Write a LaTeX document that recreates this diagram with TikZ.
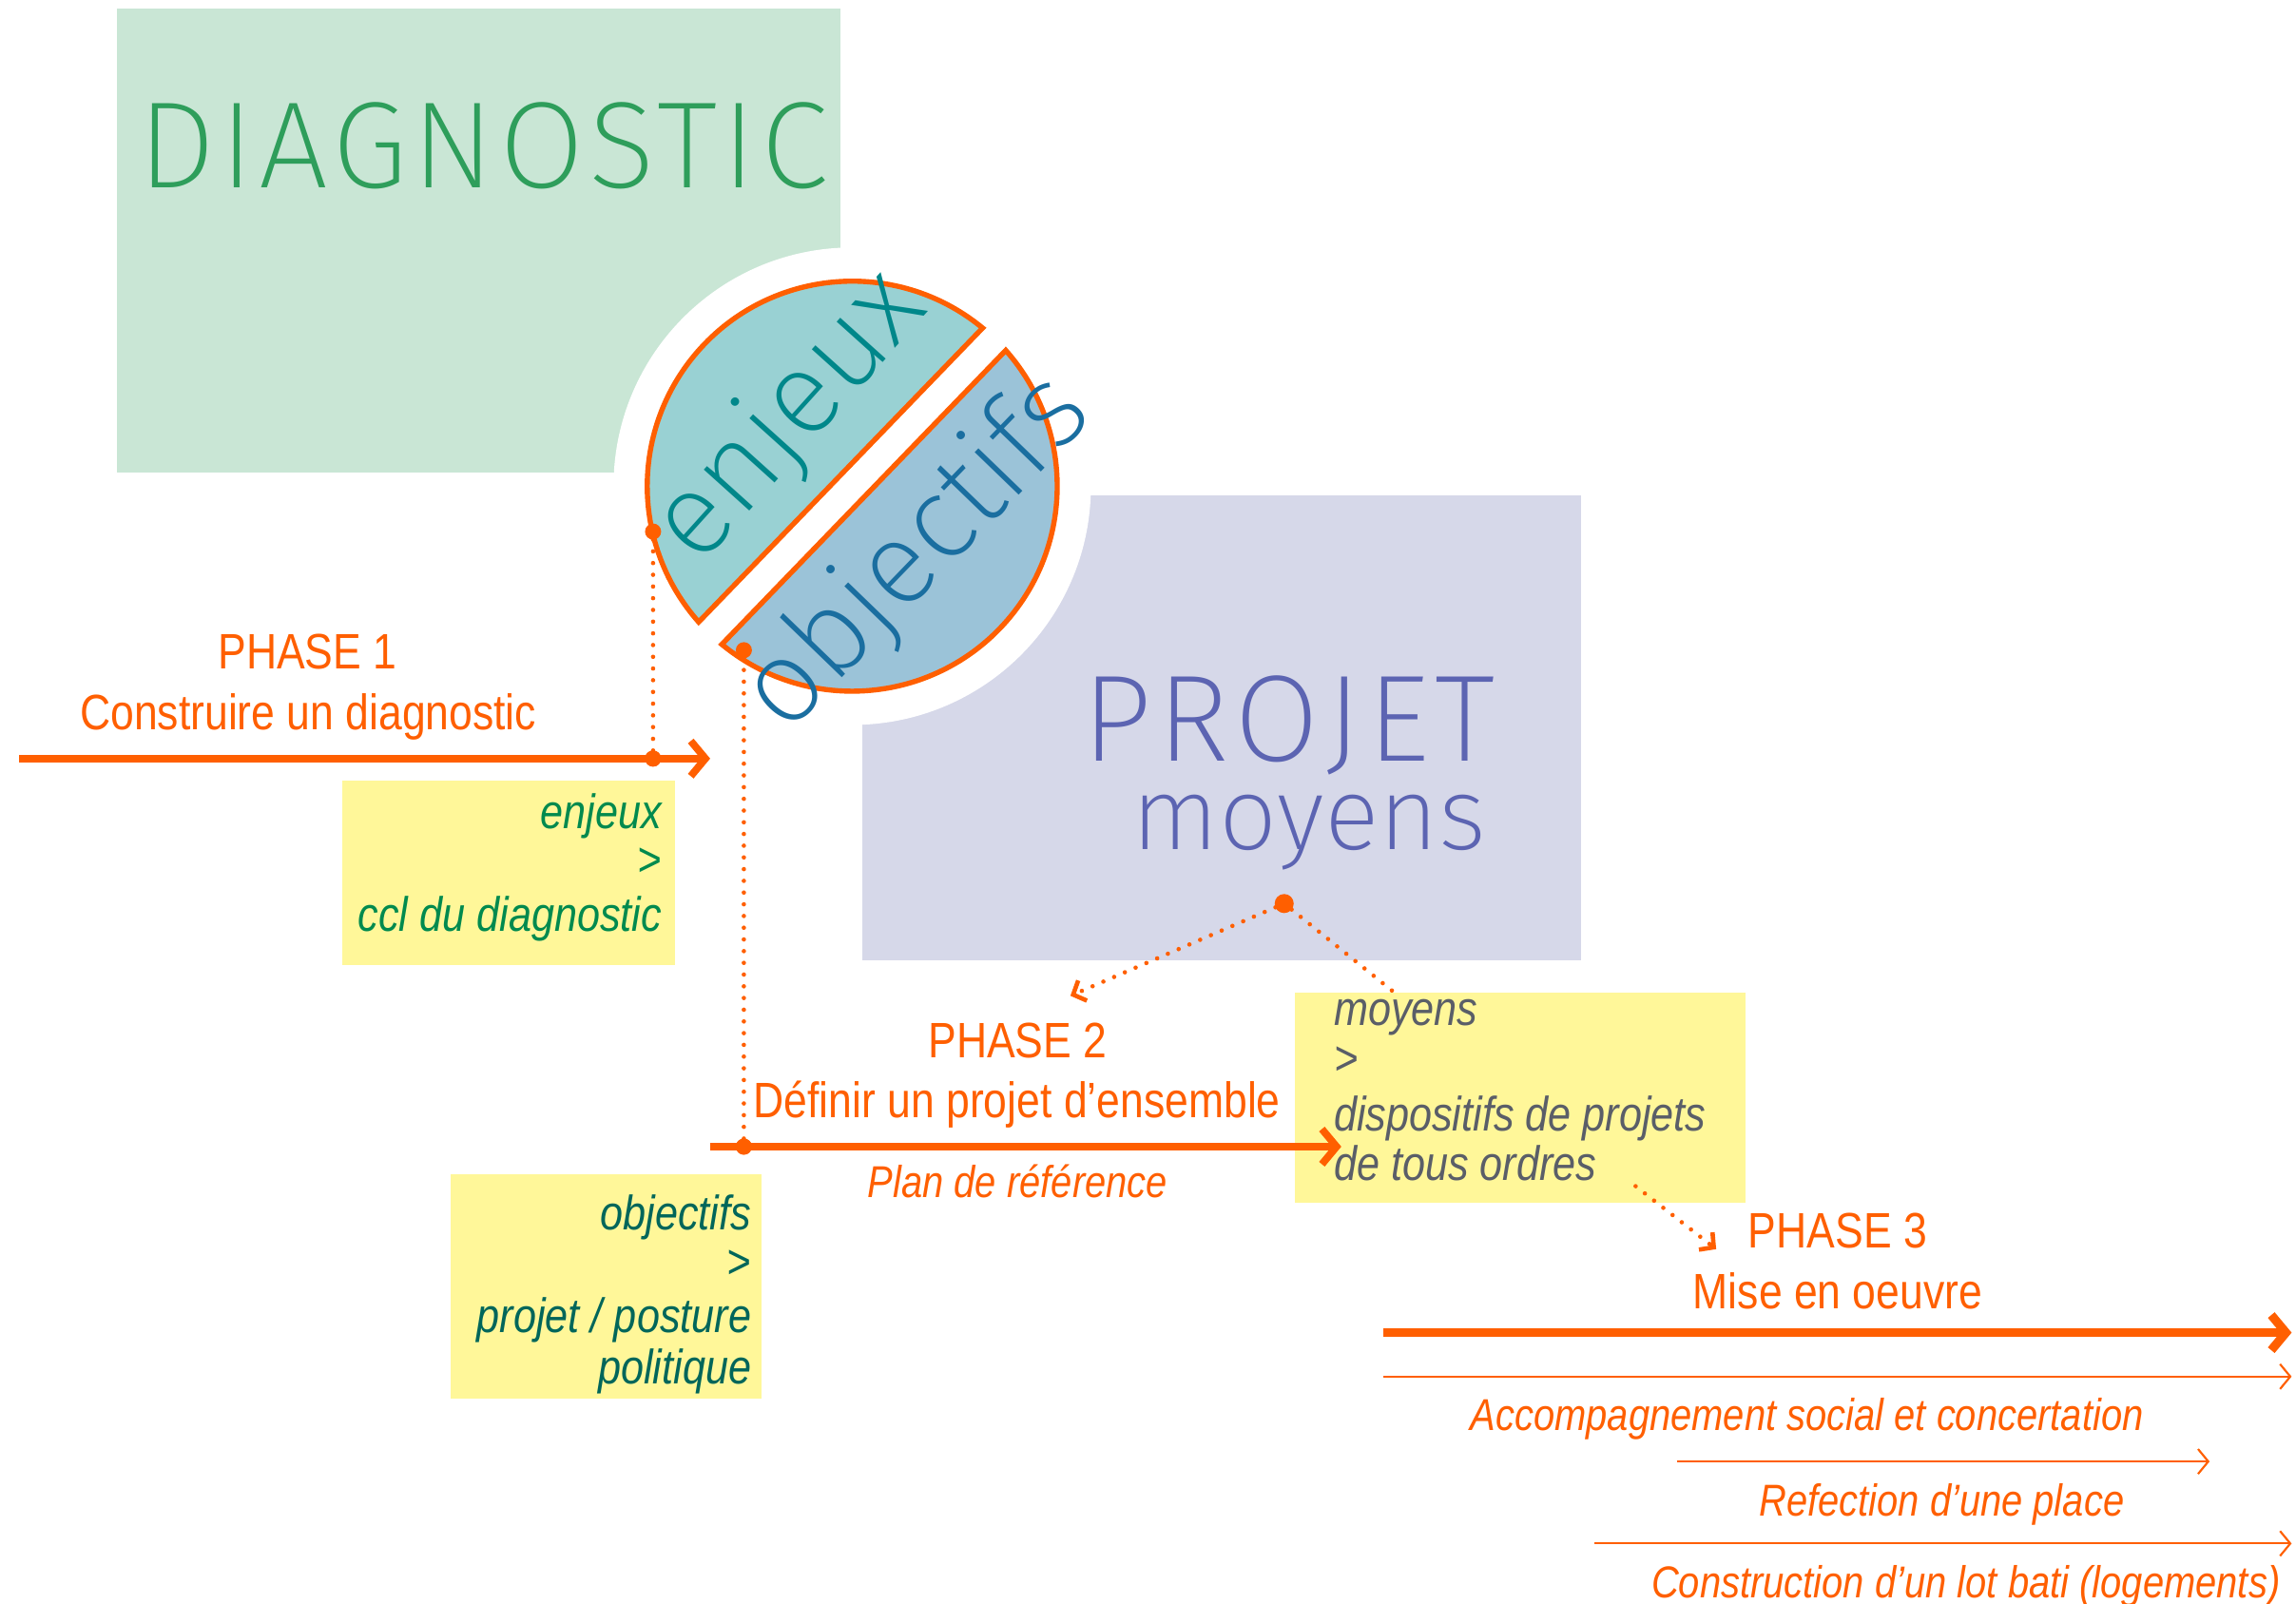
\documentclass[tikz,border=0pt]{standalone}
\usepackage{fontspec}
\usetikzlibrary{arrows.meta}
\newfontfamily\narrow{Liberation Sans}[FakeStretch=0.85]
\newfontfamily\thinf{Fira Sans ExtraLight}
\definecolor{orng}{HTML}{FF5F00}
\definecolor{diagfill}{HTML}{C9E6D5}
\definecolor{diagtext}{HTML}{2E9E5B}
\definecolor{enjfill}{HTML}{99D1D3}
\definecolor{enjtext}{HTML}{00878A}
\definecolor{objfill}{HTML}{9BC3D8}
\definecolor{objtext}{HTML}{1A6EA0}
\definecolor{projfill}{HTML}{D6D8E9}
\definecolor{projtext}{HTML}{5C64B2}
\definecolor{yel}{HTML}{FFF799}
\definecolor{gA}{HTML}{008A4E}
\definecolor{gB}{HTML}{00665A}
\definecolor{gC}{HTML}{5A5E68}
\begin{document}
\begin{tikzpicture}[x=1pt,y=-1pt,
  every node/.style={inner sep=0pt, outer sep=0pt},
  ph/.style={font=\narrow\fontsize{34}{40}\selectfont, text=orng, anchor=base},
  lab/.style={font=\narrow\itshape\fontsize{30.5}{38}\selectfont, text=orng, anchor=base},
  boxtxtR/.style={font=\narrow\itshape\fontsize{33}{40}\selectfont, anchor=base east},
  boxtxtL/.style={font=\narrow\itshape\fontsize{33}{40}\selectfont, anchor=base west},
  bigarrow/.style={draw=orng, line width=5pt, -{Straight Barb[length=10pt,width=24pt]}},
  thinarrow/.style={draw=orng, line width=1.4pt, -{Straight Barb[length=7pt,width=17pt]}},
  dotline/.style={draw=orng, line width=3pt, line cap=round, dash pattern=on 0pt off 8pt},
  dottip/.style={-{Straight Barb[length=7pt,width=15pt,line width=3pt]}},
  odot/.style={circle, fill=orng, minimum size=11pt},
  seg/.style={draw=orng, line width=3.5pt, line join=miter}
]
\useasboundingbox (0,0) rectangle (1568,1095);
% background boxes
\fill[diagfill] (80,6) rectangle (574,323);
\fill[projfill] (589,338) rectangle (1080,656);
\fill[white] (582,332) circle[radius=163];
% split disc
\begin{scope}[shift={(582,332)}]
  \filldraw[seg, fill=enjfill] (-50.5:140) arc[start angle=-50.5, end angle=-221.5, radius=140] -- cycle;
  \filldraw[seg, fill=objfill] (-230.5:140) arc[start angle=-230.5, end angle=-401.5, radius=140] -- cycle;
\end{scope}
% big titles
\node[font=\thinf\addfontfeature{LetterSpace=4}\fontsize{84}{90}\selectfont, text=diagtext, anchor=base] (tdiag) at (330,128) {DIAGNOSTIC};
\node[font=\thinf\fontsize{80}{90}\selectfont, text=enjtext, rotate=48] (tenj) at (540,285) {enjeux};
\node[font=\thinf\fontsize{80}{90}\selectfont, text=objtext, rotate=46] (tobj) at (627,378) {objectifs};
\node[font=\thinf\addfontfeature{LetterSpace=5}\fontsize{84}{90}\selectfont, text=projtext, anchor=base] (tproj) at (880,520) {PROJET};
\node[font=\thinf\fontsize{70}{80}\selectfont, text=projtext, anchor=base] (tmoy) at (894,580) {moyens};
% yellow boxes
\fill[yel] (234,533) rectangle (461,659);
\fill[yel] (308,802) rectangle (520,955);
\fill[yel] (884,678) rectangle (1192,821);
\node[boxtxtR, text=gA] (b1a) at (452,566) {enjeux};
\node[boxtxtR, text=gA] (b1b) at (452,598) {>};
\node[boxtxtR, text=gA] (b1c) at (452,636) {ccl du diagnostic};
\node[boxtxtR, text=gB] (b2a) at (513,840) {objectifs};
\node[boxtxtR, text=gB] (b2b) at (513,873) {>};
\node[boxtxtR, text=gB] (b2c) at (513,910) {projet / posture};
\node[boxtxtR, text=gB] (b2d) at (513,945) {politique};
\node[boxtxtL, text=gC] (b3a) at (911,700) {moyens};
\node[boxtxtL, text=gC] (b3b) at (911,734) {>};
\node[boxtxtL, text=gC] (b3c) at (911,772) {dispositifs de projets};
\node[boxtxtL, text=gC] (b3d) at (911,806) {de tous ordres};
% phase labels
\node[ph] (ph1a) at (210,457) {PHASE 1};
\node[ph] (ph1b) at (210.5,498) {Construire un diagnostic};
\node[ph] (ph2a) at (695,722) {PHASE 2};
\node[ph] (ph2b) at (694.5,763) {Définir un projet d’ensemble};
\node[lab] (plan) at (695,818) {Plan de référence};
\node[ph] (ph3a) at (1255,852) {PHASE 3};
\node[ph] (ph3b) at (1255,894) {Mise en oeuvre};
\node[lab] (l1) at (1234,977) {Accompagnement social et concertation};
\node[lab] (l2) at (1326,1035) {Refection d’une place};
\node[lab] (l3) at (1342.5,1091) {Construction d’un lot bati (logements)};
% coordinates
\coordinate (a1s) at (13,518);
\coordinate (a1e) at (485,518);
\coordinate (a2s) at (485,783);
\coordinate (a2e) at (916,783);
\coordinate (a3s) at (945,910);
\coordinate (a3e) at (1565,910);
\coordinate (t1s) at (945,940);
\coordinate (t1e) at (1565,940);
\coordinate (t2s) at (1145,998);
\coordinate (t2e) at (1509,998);
\coordinate (t3s) at (1089,1054);
\coordinate (t3e) at (1565,1054);
\coordinate (q2) at (731,680);
\coordinate (q3) at (955,680);
\coordinate (r1) at (1117,810);
\coordinate (r2) at (1172,853);
% dots
\node[odot] (e1) at (446,363) {};
\node[odot] (d1) at (446,518) {};
\node[odot] (o1) at (508,444) {};
\node[odot] (d2) at (508,783) {};
\node[odot, minimum width=11pt, minimum height=13pt] (p1) at (877,617) {};
% dotted connectors
\draw[dotline] (e1) -- (d1);
\draw[dotline] (o1) -- (d2);
\draw[dotline, dottip] (p1) -- (q2);
\draw[dotline] (p1) -- (q3);
\draw[dotline, dottip] (r1) -- (r2);
% arrows
\draw[bigarrow] (a1s) -- (a1e);
\draw[bigarrow] (a2s) -- (a2e);
\draw[bigarrow, line width=6pt] (a3s) -- (a3e);
\draw[thinarrow] (t1s) -- (t1e);
\draw[thinarrow] (t2s) -- (t2e);
\draw[thinarrow] (t3s) -- (t3e);
\node[odot] at (d1) {};
\node[odot] at (d2) {};
\end{tikzpicture}
\end{document}
